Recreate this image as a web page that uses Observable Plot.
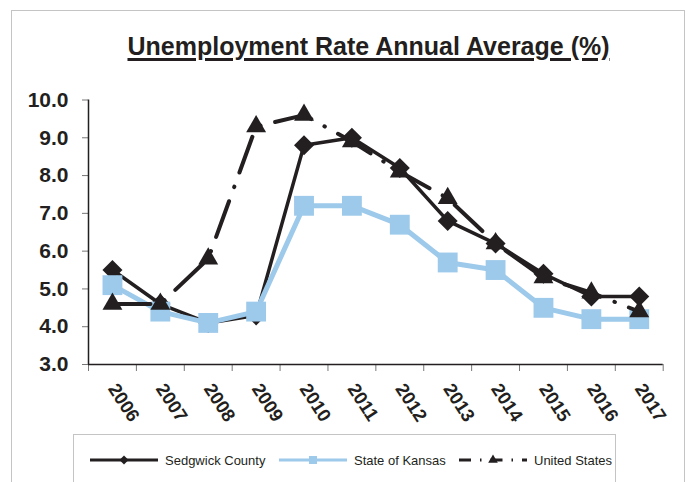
<!DOCTYPE html>
<html>
<head>
<meta charset="utf-8">
<script src="https://cdn.jsdelivr.net/npm/d3@7"></script>
<script src="https://cdn.jsdelivr.net/npm/@observablehq/plot@0.6"></script>
<style>
  html, body { margin: 0; padding: 0; background: #fff; }
  #wrap { position: relative; width: 689px; height: 482px; overflow: hidden; background: #fff;
          font-family: "Liberation Sans", Arial, sans-serif; }
  #frame { position: absolute; left: 11px; top: 10px; width: 672px; height: 490px; border: 1.5px solid #c4c4c4; }
  #title { position: absolute; left: 368.5px; top: 34px; transform: translateX(-50%); white-space: nowrap;
           font-size: 25px; line-height: 25px; font-weight: bold; color: #231f20;
           text-decoration: underline; text-decoration-thickness: 2.5px; text-underline-offset: 3px; }
  #chart { position: absolute; left: 0; top: 0; }
  #legend { position: absolute; left: 73px; top: 434px; width: 541px; height: 60px; border: 1.5px solid #c4c4c4; background: #fff; }
  .item { position: absolute; top: 16px; height: 18px; display: flex; align-items: center; font-size: 13px; color: #231f20; white-space: nowrap; }
  .item svg { margin-right: 6px; }
</style>
</head>
<body>
<div id="wrap">
  <div id="frame"></div>
  <div id="chart"></div>
  <div id="title">Unemployment Rate Annual Average (%)</div>
  <div id="legend"></div>
</div>
<script>
const years = [2006, 2007, 2008, 2009, 2010, 2011, 2012, 2013, 2014, 2015, 2016, 2017];
const sedgwick = [5.5, 4.6, 4.1, 4.3, 8.8, 9.0, 8.2, 6.8, 6.2, 5.4, 4.8, 4.8];
const kansas = [5.1, 4.4, 4.1, 4.4, 7.2, 7.2, 6.7, 5.7, 5.5, 4.5, 4.2, 4.2];
const unitedStates = [4.6, 4.6, 5.8, 9.3, 9.6, 8.9, 8.1, 7.4, 6.2, 5.3, 4.9, 4.4];
const yTicks = [3, 4, 5, 6, 7, 8, 9, 10];
const seriesNames = ["Sedgwick County", "State of Kansas", "United States"];

const black = "#231f20";
const blue = "#9dc9ea";

const rows = (vals) => years.map((year, i) => ({year, value: vals[i]}));
const sedRows = rows(sedgwick), ksRows = rows(kansas), usRows = rows(unitedStates);
const edges = [years[0] - 0.5, ...years.map(y => y + 0.5)];

const chart = Plot.plot({
  width: 689,
  height: 482,
  marginLeft: 88,
  marginRight: 26.3,
  marginTop: 99.5,
  marginBottom: 118,
  style: {background: "transparent", fontFamily: "'Liberation Sans', Arial, sans-serif", color: black},
  x: {type: "linear", domain: [years[0] - 0.5, years[years.length - 1] + 0.5]},
  y: {domain: [3, 10]},
  marks: [
    Plot.axisY({ticks: yTicks, tickFormat: d => d.toFixed(1), tickSize: 6, tickPadding: 14,
                fontSize: 21, fontWeight: "bold", fill: black, stroke: "#777", label: null}),
    Plot.axisX({ticks: edges, tickFormat: () => "", tickSize: 7, label: null, stroke: "#777"}),
    Plot.axisX({ticks: years, tickFormat: d => String(d), tickSize: 0, tickPadding: 21, tickRotate: 57,
                fontSize: 18.5, fontWeight: "bold", fill: black, label: null}),
    Plot.ruleX([years[0] - 0.5], {stroke: black, strokeWidth: 1.5}),
    Plot.ruleY([3], {stroke: black, strokeWidth: 1.5}),
    Plot.line(sedRows, {x: "year", y: "value", stroke: black, strokeWidth: 3.5}),
    Plot.dot(sedRows, {x: "year", y: "value", symbol: "square", r: 8, rotate: 45, fill: black}),
    Plot.line(ksRows, {x: "year", y: "value", stroke: blue, strokeWidth: 5}),
    Plot.dot(ksRows, {x: "year", y: "value", symbol: "square", r: 11.2, fill: blue}),
    Plot.line(usRows, {x: "year", y: "value", stroke: black, strokeWidth: 4,
                       strokeDasharray: "38,15,0.5,15", strokeLinecap: "round"}),
    Plot.dot(usRows, {x: "year", y: "value", symbol: "triangle", r: 7.4, fill: black})
  ]
});
document.getElementById("chart").appendChild(chart);

// Legend
const legend = document.getElementById("legend");
const legendItems = [
  {name: seriesNames[0], left: 15, color: black, width: 3, dash: null, marker: "diamond"},
  {name: seriesNames[1], left: 204, color: blue, width: 3, dash: null, marker: "square"},
  {name: seriesNames[2], left: 384, color: black, width: 3, dash: "12,9,1.5,9", marker: "triangle"}
];
for (const it of legendItems) {
  const div = document.createElement("div");
  div.className = "item";
  div.style.left = it.left + "px";
  const svg = d3.create("svg").attr("width", 70).attr("height", 18);
  svg.append("line").attr("x1", 1).attr("x2", 69).attr("y1", 9).attr("y2", 9)
    .attr("stroke", it.color).attr("stroke-width", it.width)
    .attr("stroke-dasharray", it.dash);
  const sym = it.marker === "diamond" ? d3.symbol(d3.symbolSquare, 40)
            : it.marker === "square" ? d3.symbol(d3.symbolSquare, 64)
            : d3.symbol(d3.symbolTriangle, 40);
  svg.append("path").attr("d", sym()).attr("fill", it.color)
    .attr("transform", `translate(35,9)${it.marker === "diamond" ? " rotate(45)" : ""}`);
  div.appendChild(svg.node());
  const span = document.createElement("span");
  span.textContent = it.name;
  div.appendChild(span);
  legend.appendChild(div);
}
</script>
</body>
</html>
